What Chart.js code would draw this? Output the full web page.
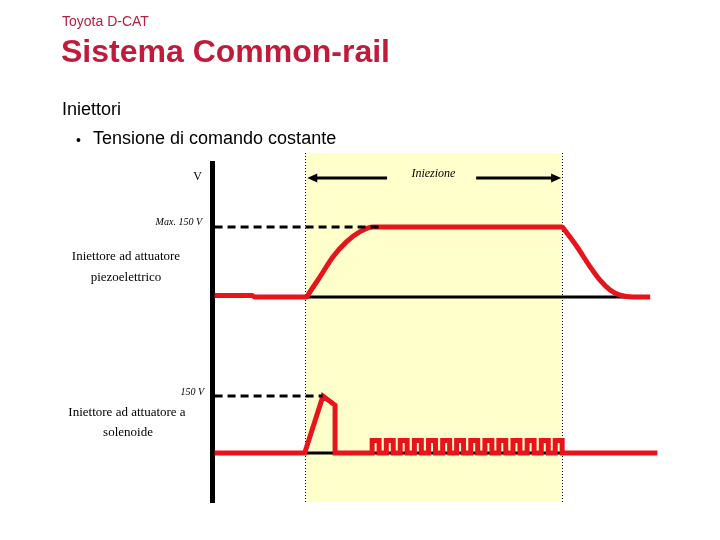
<!DOCTYPE html>
<html>
<head>
<meta charset="utf-8">
<script src="https://cdn.jsdelivr.net/npm/chart.js@4"></script>
<style>
  body { margin: 0; background: #fff; }
  #wrap { position: relative; width: 720px; height: 540px; overflow: hidden; }
  #wrap canvas { position: absolute; left: 0; top: 0; }
  .txt { position: absolute; white-space: nowrap; line-height: 1; }
  .hdr { font-family: "Liberation Sans", Arial, sans-serif; }
  .lbl { font-family: "Liberation Serif", serif; font-size: 13px; width: 180px; text-align: center; color: #000; }
</style>
</head>
<body>
<div id="wrap">
  <canvas id="chart" width="720" height="540"></canvas>
  <div class="txt hdr" style="left:62px;top:14px;font-size:14px;color:#b5203f">Toyota D-CAT</div>
  <div class="txt hdr" style="left:61px;top:35px;font-size:32px;font-weight:bold;color:#c11b3c">Sistema Common-rail</div>
  <div class="txt hdr" style="left:62px;top:100px;font-size:18px;color:#000">Iniettori</div>
  <div class="txt hdr" style="left:76px;top:133px;font-size:14px;color:#000">•</div>
  <div class="txt hdr" style="left:93px;top:129px;font-size:18px;color:#000">Tensione di comando costante</div>
  <div class="txt lbl" style="left:36px;top:249px">Iniettore ad attuatore</div>
  <div class="txt lbl" style="left:36px;top:270px">piezoelettrico</div>
  <div class="txt lbl" style="left:37px;top:405px">Iniettore ad attuatore a</div>
  <div class="txt lbl" style="left:38px;top:425px">solenoide</div>
</div>
<script>
// time axis (arbitrary units, injection window = 0..100)
const timeRange = [-36, 138];
const injectionWindow = [0, 100];
const arrowSpans = [[1, 32], [66.6, 99.6]];
const arrowLevel = 255;

// voltage axes
const piezoRange = [-71, 287];
const solenoidRange = [-129, 324];
const piezoTickValues = [150, 246];
const piezoTickLabels = ["Max. 150 V", "V"];
const solenoidTickValues = [150];
const solenoidTickLabels = ["150 V"];

// piezo injector command voltage
const piezoTime = [-35, -20.5, -19.5, 0.8, 1.6, 6.0, 11.0, 16.3, 21.5, 26.6, 29.3,
  100, 101, 105.7, 110.8, 114.7, 118.6, 122.5, 127.6, 134.2];
const piezoVolt = [3, 3, 0, 0, 7, 43.5, 86, 118.5, 140, 150, 150,
  150, 143, 108, 65, 36, 15, 4, 0, 0];
const piezoBaseTime = [0, 128];
const piezoMaxTime = [-35, 29];

// solenoid injector command voltage
const solenoidTime = [-35, 0, 7.1, 11.8, 11.8,
  26.2, 26.2, 28.9, 28.9,
  31.7, 31.7, 34.4, 34.4,
  37.1, 37.1, 39.8, 39.8,
  42.6, 42.6, 45.3, 45.3,
  48.1, 48.1, 50.8, 50.8,
  53.6, 53.6, 56.3, 56.3,
  59.0, 59.0, 61.7, 61.7,
  64.5, 64.5, 67.2, 67.2,
  70.0, 70.0, 72.7, 72.7,
  75.4, 75.4, 78.1, 78.1,
  80.9, 80.9, 83.6, 83.6,
  86.4, 86.4, 89.1, 89.1,
  91.9, 91.9, 94.6, 94.6,
  97.3, 97.3, 100.0, 100.0,
  137];
const solenoidVolt = [0, 0, 150, 126, 0,
  0, 33, 33, 0,
  0, 33, 33, 0,
  0, 33, 33, 0,
  0, 33, 33, 0,
  0, 33, 33, 0,
  0, 33, 33, 0,
  0, 33, 33, 0,
  0, 33, 33, 0,
  0, 33, 33, 0,
  0, 33, 33, 0,
  0, 33, 33, 0,
  0, 33, 33, 0,
  0, 33, 33, 0,
  0, 33, 33, 0,
  0];
const solenoidBaseTime = [0, 100];
const solenoidMaxTime = [-35, 7];

const RED = "#e8141c";

function pts(ts, vs) {
  return ts.map((t, i) => ({ x: t, y: Array.isArray(vs) ? vs[i] : vs }));
}

const bandPlugin = {
  id: "band",
  beforeDatasetsDraw(chart) {
    const { ctx, chartArea, scales: { x } } = chart;
    const x0 = Math.round(x.getPixelForValue(injectionWindow[0]));
    const x1 = Math.round(x.getPixelForValue(injectionWindow[1]));
    const top = chartArea.top - 10, bottom = chartArea.bottom;
    ctx.save();
    ctx.fillStyle = "#ffffcc";
    ctx.fillRect(x0, top, x1 - x0, bottom - top);
    ctx.strokeStyle = "#000";
    ctx.lineWidth = 1;
    ctx.setLineDash([1, 2]);
    [x0, x1].forEach(px => {
      ctx.beginPath();
      ctx.moveTo(px + 0.5, top);
      ctx.lineTo(px + 0.5, bottom);
      ctx.stroke();
    });
    ctx.restore();
  },
  afterDatasetsDraw(chart) {
    const { ctx, scales: { x, yP } } = chart;
    const y = yP.getPixelForValue(arrowLevel);
    ctx.save();
    ctx.strokeStyle = "#000";
    ctx.fillStyle = "#000";
    ctx.lineWidth = 3;
    const a0 = x.getPixelForValue(arrowSpans[0][0]), a1 = x.getPixelForValue(arrowSpans[0][1]);
    const b0 = x.getPixelForValue(arrowSpans[1][0]), b1 = x.getPixelForValue(arrowSpans[1][1]);
    ctx.beginPath();
    ctx.moveTo(a0 + 8, y); ctx.lineTo(a1, y);
    ctx.moveTo(b0, y); ctx.lineTo(b1 - 8, y);
    ctx.stroke();
    ctx.beginPath();
    ctx.moveTo(a0, y); ctx.lineTo(a0 + 10, y - 4.5); ctx.lineTo(a0 + 10, y + 4.5); ctx.closePath();
    ctx.moveTo(b1, y); ctx.lineTo(b1 - 10, y - 4.5); ctx.lineTo(b1 - 10, y + 4.5); ctx.closePath();
    ctx.fill();
    ctx.font = "italic 12px 'Liberation Serif'";
    ctx.textAlign = "center";
    ctx.textBaseline = "middle";
    ctx.fillText("Iniezione", x.getPixelForValue(50), y - 4);
    ctx.restore();
  }
};

function voltAxis(range, weight, tickValues, tickLabels, pad, offset) {
  return {
    type: "linear",
    position: "left",
    stack: "volts",
    stackWeight: weight,
    min: range[0],
    max: range[1],
    grid: { display: false, drawTicks: false },
    border: { display: true, width: 5, color: "#000" },
    afterBuildTicks: (scale) => { scale.ticks = tickValues.map(v => ({ value: v })); },
    afterFit: (scale) => { scale.width = 150; },
    ticks: {
      autoSkip: false,
      padding: pad,
      labelOffset: offset,
      color: "#000",
      callback: (value, index) => tickLabels[index],
      font: (c) => tickLabels[c.index] === "V"
        ? { family: "Liberation Serif", size: 12 }
        : { family: "Liberation Serif", size: 10, style: "italic" }
    }
  };
}

new Chart(document.getElementById("chart"), {
  type: "line",
  data: {
    datasets: [
      { data: pts(piezoMaxTime, 150), yAxisID: "yP", borderColor: "#000", borderWidth: 3, borderDash: [8, 5] },
      { data: pts(solenoidMaxTime, 150), yAxisID: "yS", borderColor: "#000", borderWidth: 3, borderDash: [8, 5] },
      { data: pts(piezoTime, piezoVolt), yAxisID: "yP", borderColor: RED, borderWidth: 5, cubicInterpolationMode: "monotone" },
      { data: pts(solenoidTime, solenoidVolt), yAxisID: "yS", borderColor: RED, borderWidth: 5, borderJoinStyle: "miter" },
      { data: pts(piezoBaseTime, 0), yAxisID: "yP", borderColor: "#000", borderWidth: 3 },
      { data: pts(solenoidBaseTime, 0), yAxisID: "yS", borderColor: "#000", borderWidth: 3 }
    ]
  },
  options: {
    responsive: false,
    animation: false,
    events: [],
    layout: { padding: { left: 62, right: 60, top: 163, bottom: 38 } },
    elements: { point: { radius: 0 }, line: { fill: false, borderCapStyle: "butt" } },
    scales: {
      x: { type: "linear", min: timeRange[0], max: timeRange[1], display: false },
      // left stack is laid out in reverse order: the last one ends on top
      yS: voltAxis(solenoidRange, 172, solenoidTickValues, solenoidTickLabels, 8, -4),
      yP: voltAxis(piezoRange, 167, piezoTickValues, piezoTickLabels, 10, -5)
    },
    plugins: {
      legend: { display: false },
      tooltip: { enabled: false }
    }
  },
  plugins: [bandPlugin]
});
</script>
</body>
</html>
